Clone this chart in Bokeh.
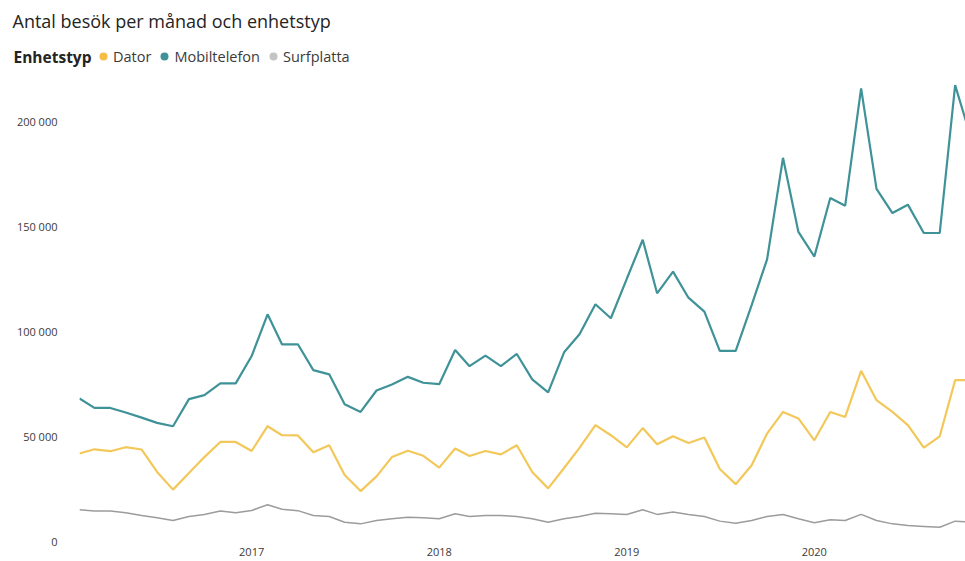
import pandas as pd
from bokeh.plotting import figure
from bokeh.models import (ColumnDataSource, Range1d, FixedTicker, DatetimeTickFormatter,
                          Legend, LegendItem, Label)
from bokeh.embed import file_html
from bokeh.resources import INLINE

# ---- data ----
first_month = "2016-02-01"
n_months = 58
dator = [41900, 43900, 43000, 44900, 43800, 33100, 24700, 32600, 40200, 47400,
         47400, 43100, 54900, 50600, 50500, 42500, 45800, 31700, 24000, 31000,
         40200, 43200, 40800, 35200, 44300, 40700, 43100, 41500, 45800, 33100,
         25300, 35000, 44600, 55400, 50600, 44800, 54000, 46300, 50100, 46900,
         49500, 34500, 27300, 36300, 51400, 61700, 58600, 48200, 61700, 59300,
         81300, 67300, 61700, 55400, 44700, 50100, 76800, 76800]
mobil = [68100, 63600, 63600, 61400, 59000, 56500, 54900, 67800, 69700, 75300,
         75300, 88300, 108200, 93900, 93900, 81600, 79600, 65400, 61700, 71900,
         74800, 78400, 75600, 74900, 91200, 83500, 88500, 83500, 89300, 77200,
         71000, 90100, 98700, 113000, 106300, 125100, 143700, 118200, 128500, 116100,
         109500, 90800, 90800, 112600, 134300, 182700, 147400, 135700, 163600, 159900,
         215800, 167900, 156400, 160400, 146900, 146900, 217300, 192000]
surf = [15100, 14500, 14500, 13700, 12400, 11300, 10000, 11900, 12900, 14500,
        13700, 14800, 17500, 15400, 14700, 12400, 11900, 9200, 8400, 10000,
        10800, 11600, 11300, 10800, 13200, 11900, 12400, 12400, 11900, 10800,
        9200, 10800, 11900, 13500, 13200, 12900, 15100, 12900, 14000, 12900,
        11900, 9700, 8700, 10000, 11900, 12900, 10800, 8900, 10400, 10000,
        12900, 10000, 8400, 7600, 7200, 6800, 9700, 9200]
series_names = ["Dator", "Mobiltelefon", "Surfplatta"]
year_ticks = ["2017-01-01", "2018-01-01", "2019-01-01", "2020-01-01"]
y_ticks = [0, 50000, 100000, 150000, 200000]
y_tick_labels = ["0", "50 000", "100 000", "150 000", "200 000"]

title_text = "Antal besök per månad och enhetstyp"
legend_title = "Enhetstyp"

# ---- styling ----
colors = {"Dator": "#F3C85A", "Mobiltelefon": "#3F9298", "Surfplatta": "#9C9C9C"}
dot_colors = {"Dator": "#F6BE45", "Mobiltelefon": "#3F9298", "Surfplatta": "#C4C4C4"}
widths = {"Dator": 2.2, "Mobiltelefon": 2.2, "Surfplatta": 1.5}
FONT = "Open Sans"
TEXT = "#252423"

dates = pd.date_range(first_month, periods=n_months, freq="MS")
src = ColumnDataSource(dict(date=dates, Dator=dator, Mobiltelefon=mobil, Surfplatta=surf))

def ms(ts):
    return pd.Timestamp(ts).value / 1e6

W = 965
HEAD_H = 75
MAIN_H = 561 - HEAD_H

# ---------------- header (title + legend) ----------------
head = figure(width=W, height=HEAD_H, output_backend="svg", toolbar_location=None,
              x_axis_location=None, y_axis_location=None,
              x_range=Range1d(0, 1), y_range=Range1d(0, 1),
              min_border=0, min_border_left=0, min_border_right=0,
              min_border_top=0, min_border_bottom=0)
head.outline_line_color = None
head.grid.visible = False

head.add_layout(Label(x=12, y=HEAD_H - 20, x_units="screen", y_units="screen",
                      text=title_text, text_font=FONT, text_font_size="18px",
                      text_color=TEXT, text_baseline="middle"))
head.add_layout(Label(x=13, y=HEAD_H - 56, x_units="screen", y_units="screen",
                      text=legend_title, text_font=FONT, text_font_size="15.5px",
                      text_font_style="bold", text_color=TEXT, text_baseline="middle"))

items = []
for name in series_names:
    dot = head.scatter("date", name, source=src, size=8, marker="circle",
                       fill_color=dot_colors[name], line_color=None)
    dot.visible = False
    items.append(LegendItem(label=name, renderers=[dot]))

legend = Legend(items=items, orientation="horizontal",
                location=(93, HEAD_H - 66),
                glyph_width=20, glyph_height=20, label_standoff=0, spacing=3,
                padding=0, margin=0, border_line_color=None,
                background_fill_alpha=0, label_text_font=FONT,
                label_text_font_size="14.5px", label_text_color="#3b3a39",
                label_text_baseline="middle")
head.add_layout(legend, "center")

# ---------------- main chart ----------------
x_start = ms(dates[0])
x_end = ms(dates[56]) + 0.65 * (ms(dates[57]) - ms(dates[56]))
frame_bottom = MAIN_H - 20
px_per_unit = 2.1 / 1000.0
y_end = frame_bottom / px_per_unit

p = figure(width=W, height=MAIN_H, output_backend="svg", toolbar_location=None,
           x_axis_type="datetime",
           x_range=Range1d(x_start, x_end), y_range=Range1d(0, y_end),
           min_border_left=79, min_border_right=0, min_border_bottom=20,
           min_border_top=0)
p.outline_line_color = None
p.xgrid.visible = False
p.ygrid.visible = False

for ax in (p.xaxis[0], p.yaxis[0]):
    ax.axis_line_color = None
    ax.major_tick_line_color = None
    ax.minor_tick_line_color = None
    ax.major_tick_out = 0
    ax.major_tick_in = 0
    ax.minor_tick_out = 0
    ax.major_label_text_font = FONT
    ax.major_label_text_font_size = "11px"
    ax.major_label_text_color = "#3b3a39"

p.xaxis.ticker = FixedTicker(ticks=[ms(t) for t in year_ticks])
p.xaxis.formatter = DatetimeTickFormatter(years="%Y", months="%Y", days="%Y",
                                          hours="%Y", minutes="%Y", seconds="%Y")
p.xaxis.major_label_standoff = 6

p.yaxis.ticker = FixedTicker(ticks=y_ticks)
p.yaxis.major_label_overrides = {t: l for t, l in zip(y_ticks, y_tick_labels)}
p.yaxis.major_label_standoff = 22

for name in series_names:
    p.line("date", name, source=src, line_color=colors[name], line_width=widths[name])

open("out.html", "w").write(file_html([head, p], INLINE))
